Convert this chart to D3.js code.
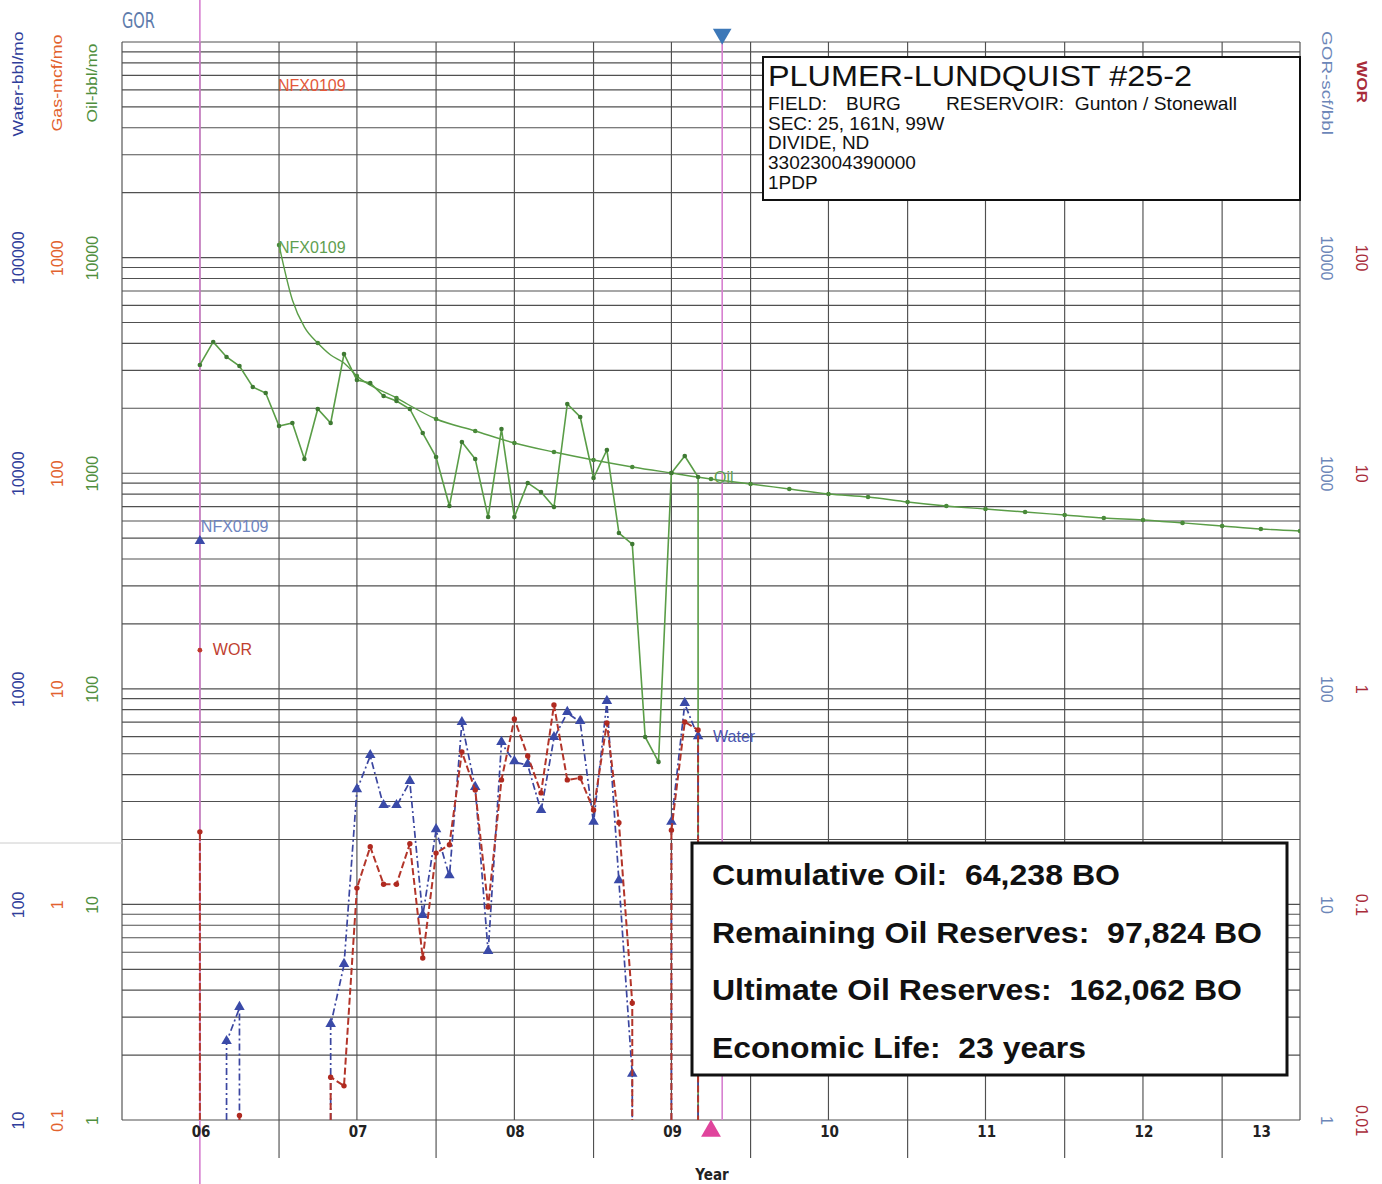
<!DOCTYPE html>
<html>
<head>
<meta charset="utf-8">
<script src="https://cdn.jsdelivr.net/npm/d3@7"></script>
<style>
body { margin: 0; background: #fff; }
svg text { font-family: "Liberation Sans", Arial, sans-serif; }
.cond { font-family: "DejaVu Sans Condensed", "DejaVu Sans", sans-serif; font-stretch: condensed; }
</style>
</head>
<body>
<svg id="drawing_region"></svg>
<script>
// monthly history, first entry = 2006-06 (null = no record, 0 = no production)
const histStart = '2006-06';
const oilHist = [null, 3177, 4062, 3459, 3141, 2512, 2355, 1656, 1710, 1164, 1986, 1710, 3572,
    2705, 2619, 2280, 2163, 1986, 1536, 1189, 704, 1396, 1164, 626, 1603,
    626, 901, 818, 697, 2094, 1823, 950, 1281, 528, 469, 59.8, 45.8,
    1002, 1202, 960, 0];
const waterHist = [null, 0, 0, 23.0, 33.1, 0, 0, 0, 0, 0, 0, 27.6, 52.4,
    339, 488, 286, 286, 370, 88.4, 221, 135, 694, 347, 60.1, 561,
    457, 443, 271, 591, 773, 701, 239, 869, 128, 16.2, 0, 0,
    239, 851, 597, 0];
const worHist = [0, 0.217, 0, 0, 0.0105, 0, 0, 0, 0, 0, 0, 0.0158, 0.0144,
    0.119, 0.185, 0.124, 0.124, 0.191, 0.0564, 0.173, 0.189, 0.509, 0.339, 0.0973, 0.378,
    0.724, 0.488, 0.329, 0.841, 0.378, 0.386, 0.274, 0.694, 0.239, 0.0349, 0, 0,
    0.221, 0.702, 0.644, 0];

// NFX0109 oil forecast
const fcstMonths = ['2007-01', '2007-02', '2007-03', '2007-04', '2007-05', '2007-06', '2007-07', '2007-10',
    '2008-01', '2008-04', '2008-07', '2008-10', '2009-01', '2009-04', '2009-07', '2009-10',
    '2010-01', '2010-04', '2010-07', '2010-10', '2011-01', '2011-04', '2011-07', '2011-10',
    '2012-01', '2012-04', '2012-07', '2012-10', '2013-01', '2013-04', '2013-07'];
const oilFcst = [11430, 6360, 4760, 4016, 3532, 3245, 2824, 2233,
    1784, 1570, 1380, 1254, 1151, 1069, 1002, 940,
    891, 845, 801, 776, 735, 704, 682, 661,
    640, 620, 607, 588, 569, 551, 539];

// forecast start values used for the NFX0109 tags
const gasFcstStart = 5900, waterFcstStart = 4850, worFcstStart = 1.51;

const oilTicks = [1, 10, 100, 1000, 10000];
const gasTicks = [0.1, 1, 10, 100, 1000];
const waterTicks = [10, 100, 1000, 10000, 100000];
const gorTicks = [1, 10, 100, 1000, 10000];
const worTicks = [0.01, 0.1, 1, 10, 100];

const wellTitle = 'PLUMER-LUNDQUIST #25-2';
const wellInfo = ['SEC: 25, 161N, 99W', 'DIVIDE, ND', '33023004390000', '1PDP'];
const summary = ['Cumulative Oil:  64,238 BO', 'Remaining Oil Reserves:  97,824 BO',
    'Ultimate Oil Reserves:  162,062 BO', 'Economic Life:  23 years'];

const parseMonth = d3.timeParse('%Y-%m');
const histDates = oilHist.map((d, i) => d3.timeMonth.offset(parseMonth(histStart), i));
const fcstDates = fcstMonths.map(parseMonth);

const W = 1382, H = 1184;
const L = 122, R = 1300, T = 42, B = 1120;

const svg = d3.select('#drawing_region').attr('width', W).attr('height', H);

const x = d3.scaleTime().domain([new Date(2006, 0, 1), new Date(2013, 6, 1)]).range([L, R]);
const yOil = d3.scaleLog().domain([1, 1e5]).range([B, T]);
const yGas = d3.scaleLog().domain([0.1, 1e4]).range([B, T]);
const yWater = d3.scaleLog().domain([10, 1e6]).range([B, T]);
const yGor = d3.scaleLog().domain([1, 1e5]).range([B, T]);
const yWor = d3.scaleLog().domain([0.01, 1e3]).range([B, T]);

const green = '#5a9d47', blue = '#3b46a0', red = '#b3352a';

// ---- grid
const grid = svg.append('g').attr('stroke', '#505050').attr('stroke-width', 1.15);
grid.selectAll('line.h').data(yOil.ticks()).join('line')
    .attr('x1', L).attr('x2', R)
    .attr('y1', d => yOil(d)).attr('y2', d => yOil(d));
grid.selectAll('line.v').data(d3.timeMonth.every(6).range(x.domain()[0], d3.timeDay.offset(x.domain()[1], 1))).join('line')
    .attr('x1', d => x(d)).attr('x2', d => x(d))
    .attr('y1', T).attr('y2', B);
// year boundaries run below the axis
grid.selectAll('line.y').data(d3.timeYear.range(new Date(2007, 0, 1), new Date(2013, 1, 1))).join('line')
    .attr('x1', d => x(d)).attr('x2', d => x(d))
    .attr('y1', B).attr('y2', 1158);
svg.append('line').attr('x1', 0).attr('x2', L).attr('y1', 843).attr('y2', 843)
    .attr('stroke', '#ccc').attr('stroke-width', 1);

// ---- date markers
const pink = '#d77fd0';
svg.append('line').attr('x1', x(histDates[1])).attr('x2', x(histDates[1]))
    .attr('y1', 0).attr('y2', H).attr('stroke', pink).attr('stroke-width', 1.6);
const asOf = new Date(2009, 9, 27);
svg.append('line').attr('x1', x(asOf)).attr('x2', x(asOf))
    .attr('y1', T).attr('y2', B).attr('stroke', pink).attr('stroke-width', 1.6);

// ---- x axis labels centred in each year
const years = d3.timeYear.range(new Date(2006, 0, 1), new Date(2014, 0, 1));
const mids = years.map(y0 => {
    const a = Math.max(+y0, +x.domain()[0]);
    const b = Math.min(+d3.timeYear.offset(y0, 1), +x.domain()[1]);
    return new Date((a + b) / 2);
});
const xg = svg.append('g').attr('transform', `translate(0,${B})`)
    .call(d3.axisBottom(x).tickValues(mids).tickSize(0).tickPadding(6).tickFormat(d3.timeFormat('%y')));
xg.select('.domain').remove();
xg.selectAll('text').attr('class', 'cond').attr('font-size', 15).attr('font-weight', 'bold').attr('fill', '#222');
svg.append('text').attr('class', 'cond').attr('x', 712).attr('y', 1180)
    .attr('text-anchor', 'middle').attr('font-size', 15).attr('font-weight', 'bold').attr('fill', '#222').text('Year');

// ---- side axes (rotated labels)
function sideAxis(scale, ticks, cx, color, rot) {
    const g = svg.append('g').attr('transform', `translate(${cx},0)`)
        .call(d3.axisLeft(scale).tickValues(ticks).tickSize(0).tickPadding(0).tickFormat(d3.format('~g')));
    g.select('.domain').remove();
    g.selectAll('.tick text')
        .attr('x', 0).attr('dy', '0.35em').attr('text-anchor', 'middle')
        .attr('transform', `rotate(${rot})`)
        .attr('fill', color).attr('font-size', 16)
        .attr('font-family', '"Liberation Sans", Arial, sans-serif');
}
sideAxis(yWater, waterTicks, 18, '#2f3d9a', -90);
sideAxis(yGas, gasTicks, 57, '#e2622e', -90);
sideAxis(yOil, oilTicks, 92, '#4f8f3e', -90);
sideAxis(yGor, gorTicks, 1327, '#6c86b8', 90);
sideAxis(yWor, worTicks, 1362, '#a82c3a', 90);

function axisTitle(txt, cx, cy, len, color, rot, weight) {
    svg.append('text').attr('transform', `translate(${cx},${cy}) rotate(${rot})`)
        .attr('text-anchor', 'middle').attr('dy', '0.35em')
        .attr('font-size', 15).attr('font-weight', weight || 'normal')
        .attr('textLength', len).attr('lengthAdjust', 'spacingAndGlyphs')
        .attr('fill', color).text(txt);
}
axisTitle('Water-bbl/mo', 18, 84, 105, '#2f3d9a', -90);
axisTitle('Gas-mcf/mo', 57, 83, 97, '#e2622e', -90);
axisTitle('Oil-bbl/mo', 92, 83, 79, '#4f8f3e', -90);
axisTitle('GOR-scf/bbl', 1327, 83, 104, '#6c86b8', 90);
axisTitle('WOR', 1362, 82, 42, '#a82c3a', 90, 'bold');
svg.append('text').attr('class', 'cond').attr('x', 122).attr('y', 28)
    .attr('font-size', 22).attr('fill', '#5d7bab')
    .attr('textLength', 33).attr('lengthAdjust', 'spacingAndGlyphs').text('GOR');

// ---- series
svg.append('clipPath').attr('id', 'plot').append('rect')
    .attr('x', L).attr('y', T - 2).attr('width', R - L).attr('height', B - T + 4);
const plot = svg.append('g').attr('clip-path', 'url(#plot)');

// split a monthly series into runs; zero months drop the line to the floor
function segments(dates, vals, scale) {
    const floor = scale.range()[0], segs = [];
    let cur = null;
    vals.forEach((v, i) => {
        const px = x(dates[i]);
        if (v > 0) {
            if (!cur) { cur = []; if (i > 0 && vals[i - 1] === 0) cur.push([px, floor]); }
            cur.push([px, scale(v)]);
        } else if (cur) {
            if (v === 0) cur.push([x(dates[i - 1]), floor]);
            segs.push(cur); cur = null;
        }
    });
    if (cur) segs.push(cur);
    return segs;
}
const line = d3.line();

// oil forecast
const fcstLine = d3.line().x(d => x(d[0])).y(d => yOil(d[1])).curve(d3.curveMonotoneX);
const fcst = fcstDates.map((d, i) => [d, oilFcst[i]]);
plot.append('path').attr('d', fcstLine(fcst))
    .attr('fill', 'none').attr('stroke', green).attr('stroke-width', 1.4);
plot.selectAll('circle.fc').data(fcst.filter(d => d[0].getMonth() % 3 === 0)).join('circle')
    .attr('cx', d => x(d[0])).attr('cy', d => yOil(d[1])).attr('r', 2.3).attr('fill', '#4a8a3a');

// oil history
segments(histDates, oilHist, yOil).forEach(s => {
    plot.append('path').attr('d', line(s)).attr('fill', 'none')
        .attr('stroke', green).attr('stroke-width', 1.6);
});
plot.selectAll('circle.oh').data(histDates.map((d, i) => [d, oilHist[i]]).filter(d => d[1] > 0)).join('circle')
    .attr('cx', d => x(d[0])).attr('cy', d => yOil(d[1])).attr('r', 2.3).attr('fill', '#3f7a33');

// water
segments(histDates, waterHist, yWater).forEach(s => {
    plot.append('path').attr('d', line(s)).attr('fill', 'none')
        .attr('stroke', blue).attr('stroke-width', 1.7).attr('stroke-dasharray', '7,3,2,3');
});
const tri = d3.symbol(d3.symbolTriangle, 48);
plot.selectAll('path.wt').data(histDates.map((d, i) => [d, waterHist[i]]).filter(d => d[1] > 0)).join('path')
    .attr('d', tri).attr('fill', '#3a4aa8')
    .attr('transform', d => `translate(${x(d[0])},${yWater(d[1]) - 1})`);

// WOR
segments(histDates, worHist, yWor).forEach(s => {
    plot.append('path').attr('d', line(s)).attr('fill', 'none')
        .attr('stroke', red).attr('stroke-width', 2).attr('stroke-dasharray', '7,3');
});
plot.selectAll('circle.wr').data(histDates.map((d, i) => [d, worHist[i]]).filter(d => d[1] > 0)).join('circle')
    .attr('cx', d => x(d[0])).attr('cy', d => yWor(d[1])).attr('r', 2.7).attr('fill', '#b02a20');

// ---- series tags
const tagFont = 16;
const startX = x(histDates[1]), fcStartX = x(fcstDates[0]);
svg.append('text').attr('x', fcStartX - 1).attr('y', yGas(gasFcstStart))
    .attr('font-size', tagFont).attr('fill', '#e4583a').text('NFX0109');
svg.append('text').attr('x', fcStartX - 1).attr('y', yOil(oilFcst[0]) + 8)
    .attr('font-size', tagFont).attr('fill', '#5fa050').text('NFX0109');
svg.append('path').attr('d', tri).attr('fill', '#3a4aa8')
    .attr('transform', `translate(${startX},${yWater(waterFcstStart)})`);
svg.append('text').attr('x', startX + 1).attr('y', yWater(waterFcstStart) - 9)
    .attr('font-size', tagFont).attr('fill', '#6d84c0').text('NFX0109');
svg.append('circle').attr('cx', startX).attr('cy', yWor(worFcstStart)).attr('r', 2.4).attr('fill', '#c0392b');
svg.append('text').attr('x', startX + 13).attr('y', yWor(worFcstStart) + 5)
    .attr('font-size', tagFont).attr('fill', '#c04030').text('WOR');
svg.append('text').attr('x', x(fcstDates[15]) + 3).attr('y', yOil(oilFcst[15]) + 4)
    .attr('font-size', tagFont).attr('fill', '#5fa050').text('Oil');
const lastW = histDates.length - 2;
svg.append('text').attr('x', x(histDates[lastW]) + 15).attr('y', yWater(waterHist[lastW]) + 5)
    .attr('font-size', tagFont).attr('fill', '#4a56b0').text('Water');

// ---- well header box
svg.append('rect').attr('x', 763).attr('y', 57).attr('width', R - 763).attr('height', 143)
    .attr('fill', '#fff').attr('stroke', '#111').attr('stroke-width', 2);
svg.append('text').attr('x', 768).attr('y', 86).attr('font-size', 29).attr('fill', '#111')
    .attr('textLength', 424).attr('lengthAdjust', 'spacingAndGlyphs').text(wellTitle);
svg.append('text').attr('x', 768).attr('y', 110).attr('font-size', 19).attr('fill', '#111').text('FIELD:');
svg.append('text').attr('x', 846).attr('y', 110).attr('font-size', 19).attr('fill', '#111').text('BURG');
svg.append('text').attr('x', 946).attr('y', 110).attr('font-size', 19).attr('fill', '#111')
    .style('white-space', 'pre').attr('textLength', 291).attr('lengthAdjust', 'spacingAndGlyphs')
    .text('RESERVOIR:  Gunton / Stonewall');
svg.selectAll('text.info').data(wellInfo).join('text')
    .attr('x', 768).attr('y', (d, i) => 129.5 + i * 19.8).attr('font-size', 19).attr('fill', '#111')
    .text(d => d);

// ---- reserves summary box
svg.append('rect').attr('x', 692).attr('y', 843).attr('width', 595).attr('height', 232)
    .attr('fill', '#fff').attr('stroke', '#111').attr('stroke-width', 3);
const sumWidths = [408, 550, 530, 374];
svg.selectAll('text.sum').data(summary).join('text')
    .attr('x', 712).attr('y', (d, i) => 885 + i * 57.7)
    .attr('font-size', 30).attr('font-weight', 'bold').attr('fill', '#111')
    .style('white-space', 'pre')
    .attr('textLength', (d, i) => sumWidths[i]).attr('lengthAdjust', 'spacingAndGlyphs')
    .text(d => d);

// ---- as-of triangles
svg.append('path').attr('d', d3.symbol(d3.symbolTriangle, 150))
    .attr('fill', '#3d78b8').attr('transform', `translate(${x(asOf)},34) rotate(180)`);
svg.append('path').attr('d', d3.symbol(d3.symbolTriangle, 170))
    .attr('fill', '#e0449c').attr('transform', `translate(${x(new Date(2009, 9, 1))},1131)`);
</script>
</body>
</html>
